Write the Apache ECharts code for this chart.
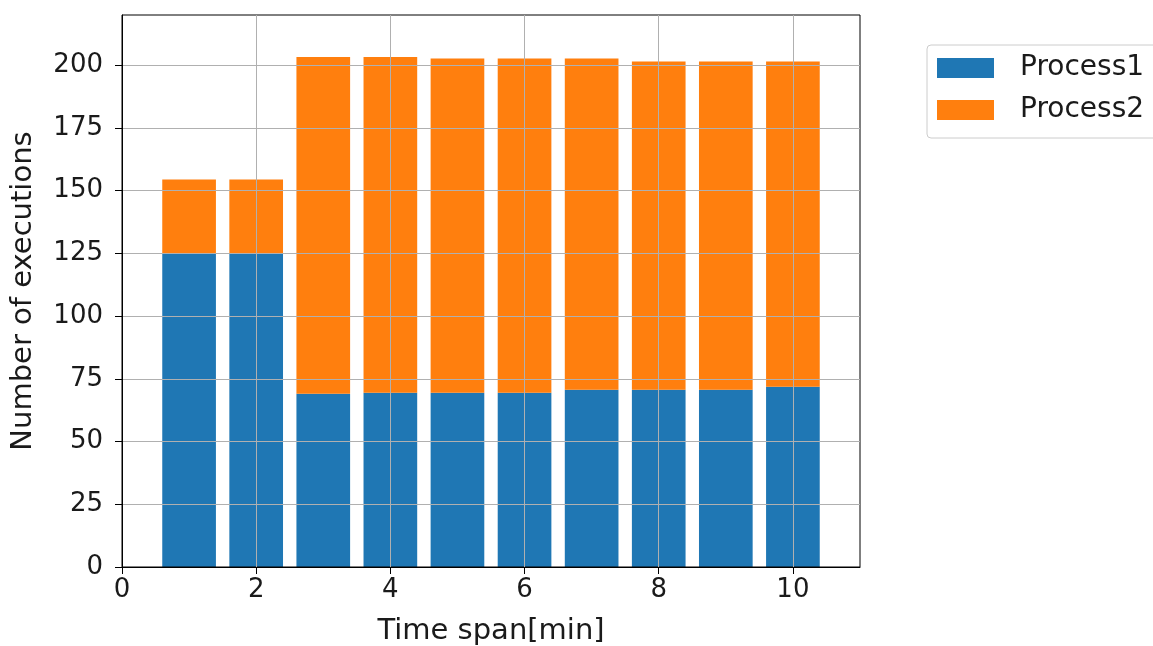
<!DOCTYPE html>
<html>
<head>
<meta charset="utf-8">
<script src="https://cdn.jsdelivr.net/npm/echarts@6/dist/echarts.min.js"></script>
<style>html,body{margin:0;padding:0;background:#fff}#c{width:1153px;height:646px}</style>
</head>
<body>
<div id="c"></div>
<script>
const timeSpans = [1, 2, 3, 4, 5, 6, 7, 8, 9, 10];
const process1 = [125, 125, 69, 69.4, 69.4, 69.4, 70.6, 70.6, 70.6, 71.8];
const process2 = [29.4, 29.4, 134.3, 133.9, 133.3, 133.3, 132.1, 130.9, 130.9, 129.7];
const xTicks = [0, 2, 4, 6, 8, 10];
const yTicks = [0, 25, 50, 75, 100, 125, 150, 175, 200];
const xMin = 0, xMax = 11;

// hidden category slots 0..11 so bars can stack at x = 1..10
const slots = [];
for (let v = xMin; v <= xMax; v++) slots.push(String(v));
const toSlots = vals => slots.map(s => {
  const i = timeSpans.indexOf(Number(s));
  return i >= 0 ? vals[i] : null;
});

const font = 'DejaVu Sans';
const chart = echarts.init(document.getElementById('c'));
const gridLeft = 122, gridRight = 293;
const plotW = 1153 - gridLeft - gridRight;
const barW = 0.8 * plotW / (xMax - xMin);

chart.setOption({
  animation: false,
  textStyle: { fontFamily: font },
  grid: { left: gridLeft, right: gridRight, top: 15, bottom: 79, outerBoundsMode: 'none', containLabel: false,
          show: true, borderColor: '#000', borderWidth: 1, backgroundColor: 'transparent', z: 4 },
  legend: {
    left: 927, top: 45, orient: 'vertical',
    icon: 'rect', itemWidth: 57, itemHeight: 20, itemGap: 14,
    padding: [9, 80, 14, 10],
    borderColor: '#cccccc', borderWidth: 1, borderRadius: 4,
    textStyle: { fontFamily: font, fontSize: 28, color: '#1a1a1a', padding: [0, 0, 0, 21] },
    data: ['Process1', 'Process2']
  },
  xAxis: [
    {
      type: 'category', data: slots, boundaryGap: false, show: false, position: 'bottom'
    },
    {
      type: 'value', min: xMin, max: xMax, z: 5, position: 'bottom',
      name: 'Time span[min]', nameLocation: 'middle', nameGap: 50,
      nameTextStyle: { fontFamily: font, fontSize: 29, color: '#1a1a1a' },
      axisLine: { show: true, onZero: false, lineStyle: { color: '#000', width: 1 } },
      axisTick: { show: true, length: 7, customValues: xTicks, lineStyle: { color: '#000' } },
      axisLabel: { customValues: xTicks, fontFamily: font, fontSize: 26, color: '#1a1a1a', margin: 10 },
      splitLine: { show: true, lineStyle: { color: '#b0b0b0', width: 1 } }
    }
  ],
  yAxis: {
    type: 'value', min: 0, max: 220, z: 5,
    name: 'Number of executions', nameLocation: 'middle', nameGap: 84,
    nameTextStyle: { fontFamily: font, fontSize: 29, color: '#1a1a1a' },
    axisLine: { show: true, lineStyle: { color: '#000', width: 1 } },
    axisTick: { show: true, length: 7, customValues: yTicks, lineStyle: { color: '#000' } },
    axisLabel: { customValues: yTicks, fontFamily: font, fontSize: 26, color: '#1a1a1a', margin: 19 },
    splitLine: { show: true, lineStyle: { color: '#b0b0b0', width: 1 } }
  },
  series: [
    { name: 'Process1', type: 'bar', stack: 'total', xAxisIndex: 0, barWidth: barW, z: 2,
      itemStyle: { color: '#1f77b4' }, data: toSlots(process1) },
    { name: 'Process2', type: 'bar', stack: 'total', xAxisIndex: 0, barWidth: barW, z: 2,
      itemStyle: { color: '#ff7f0e' }, data: toSlots(process2) }
  ]
});
</script>
</body>
</html>
